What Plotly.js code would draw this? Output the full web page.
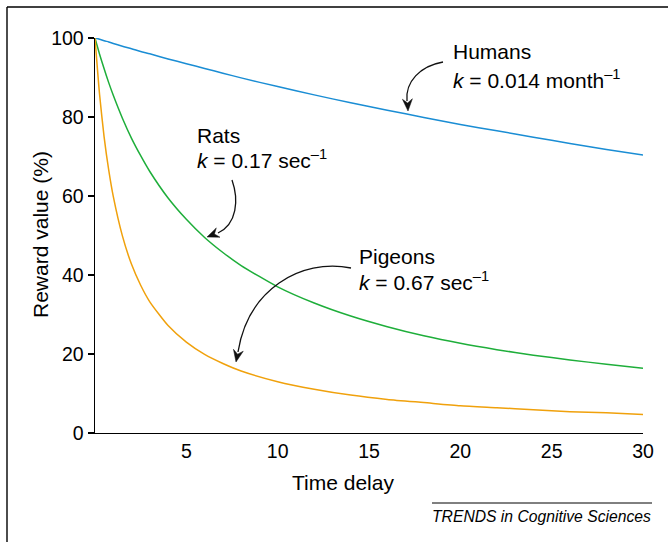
<!DOCTYPE html>
<html>
<head>
<meta charset="utf-8">
<script src="https://cdn.plot.ly/plotly-3.0.1.min.js"></script>
<style>html,body{margin:0;padding:0;background:#fff;}#chart{width:668px;height:542px;}</style>
</head>
<body>
<div id="chart"></div>
<script>
// Data
var delay = [0, 0.25, 0.5, 0.75, 1, 1.5, 2, 2.5, 3, 4, 5, 6, 7, 8, 10, 12, 14, 16, 18, 20, 22, 24, 26, 28, 30];
var humans = [100, 99.7, 99.3, 99.0, 98.6, 97.9, 97.3, 96.6, 96.0, 94.7, 93.5, 92.3, 91.1, 89.9, 87.7, 85.6, 83.6, 81.7, 79.9, 78.1, 76.5, 74.9, 73.3, 71.8, 70.4];
var rats = [100, 95.9, 92.2, 88.7, 85.5, 79.7, 74.6, 70.2, 66.2, 59.5, 54.1, 49.5, 45.7, 42.4, 37.0, 32.9, 29.6, 26.9, 24.6, 22.7, 21.1, 19.7, 18.5, 17.4, 16.4];
var pigeons = [100, 85.7, 74.9, 66.6, 59.9, 49.9, 42.7, 37.4, 33.2, 27.2, 23.0, 19.9, 17.6, 15.7, 13.0, 11.1, 9.6, 8.5, 7.7, 6.9, 6.4, 5.9, 5.4, 5.1, 4.7];
var xTicks = [5, 10, 15, 20, 25, 30];
var yTicks = [0, 20, 40, 60, 80, 100];
var seriesNames = ['Humans', 'Rats', 'Pigeons'];
var kLabels = ['<i>k</i> = 0.014 month<sup>\u20131</sup>', '<i>k</i> = 0.17 sec<sup>\u20131</sup>', '<i>k</i> = 0.67 sec<sup>\u20131</sup>'];

var W = 668, H = 542;
var M = {l: 95, r: 25, t: 38, b: 109};
var PW = W - M.l - M.r, PH = H - M.t - M.b;
function px(x) { return (x - M.l) / PW; }
function py(y) { return (H - M.b - y) / PH; }
function P(x, y) { return px(x) + ',' + py(y); }

var FONT = 'Arial, "Liberation Sans", sans-serif';

function trace(y, color, name) {
  return {x: delay, y: y, type: 'scatter', mode: 'lines', name: name,
    line: {color: color, width: 1.5, shape: 'spline', smoothing: 0.6}, hoverinfo: 'skip'};
}

var data = [
  trace(humans, '#1a8dd4', seriesNames[0]),
  trace(rats, '#1eae3a', seriesNames[1]),
  trace(pigeons, '#f0a10c', seriesNames[2])
];

function curve(s, c1, c2, e) {
  return {type: 'path', xref: 'paper', yref: 'paper',
    path: 'M' + P(s[0], s[1]) + ' C' + P(c1[0], c1[1]) + ' ' + P(c2[0], c2[1]) + ' ' + P(e[0], e[1]),
    line: {color: '#111', width: 1.3}};
}
function head(tip, dir) {
  var L = Math.sqrt(dir[0] * dir[0] + dir[1] * dir[1]);
  var ux = dir[0] / L, uy = dir[1] / L;
  var nx = -uy, ny = ux;
  var len = 12, hw = 5, notch = 8;
  var bx = tip[0] - ux * len, by = tip[1] - uy * len;
  var mx = tip[0] - ux * notch, my = tip[1] - uy * notch;
  return {type: 'path', xref: 'paper', yref: 'paper',
    path: 'M' + P(tip[0], tip[1]) + ' L' + P(bx + nx * hw, by + ny * hw) + ' L' + P(mx, my) + ' L' + P(bx - nx * hw, by - ny * hw) + ' Z',
    fillcolor: '#111', line: {color: '#111', width: 0.5}};
}

var shapes = [
  // frame
  {type: 'line', xref: 'paper', yref: 'paper', x0: px(7), x1: px(668), y0: py(7), y1: py(7), line: {color: '#000', width: 1.4}},
  {type: 'line', xref: 'paper', yref: 'paper', x0: px(7), x1: px(7), y0: py(7), y1: py(542), line: {color: '#000', width: 1.4}},
  // footer rule
  {type: 'line', xref: 'paper', yref: 'paper', x0: px(432), x1: px(652), y0: py(503), y1: py(503), line: {color: '#000', width: 1}},
  // arrows
  curve([443, 62], [420, 66], [405, 82], [407, 101]),
  head([408, 111], [0.05, 1]),
  curve([232, 180], [239, 200], [237, 224], [218, 233]),
  head([207, 237], [-1, 0.4]),
  curve([351, 268], [300, 258], [248, 290], [238, 352]),
  head([236, 362], [-0.2, 1])
];

function txt(x, y, t, size, extra) {
  var a = {xref: 'paper', yref: 'paper', x: px(x), y: py(y), text: t, showarrow: false,
    xanchor: 'left', yanchor: 'middle', font: {family: FONT, size: size, color: '#000'}};
  for (var k in extra) a[k] = extra[k];
  return a;
}

var annotations = [
  txt(451, 52, seriesNames[0], 21),
  txt(451, 79, kLabels[0], 21),
  txt(195, 135, seriesNames[1], 21),
  txt(195, 159, kLabels[1], 21),
  txt(357, 256, seriesNames[2], 21),
  txt(357, 281, kLabels[2], 21),
  txt(343, 482, 'Time delay', 21, {xanchor: 'center'}),
  txt(40, 235, 'Reward value (%)', 21, {xanchor: 'center', textangle: -90}),
  txt(430, 516, '<i>TRENDS in Cognitive Sciences</i>', 15.7)
];

var layout = {
  width: W, height: H,
  margin: M,
  paper_bgcolor: '#fff', plot_bgcolor: '#fff',
  showlegend: false,
  font: {family: FONT, size: 19.5, color: '#000'},
  xaxis: {range: [0, 30], showgrid: false, zeroline: false, showline: true, linecolor: '#000', linewidth: 1.4,
    tickmode: 'array', tickvals: xTicks, ticktext: xTicks.map(String), ticks: '', tickfont: {size: 19.5}, fixedrange: true},
  yaxis: {range: [0, 100], showgrid: false, zeroline: false, showline: true, linecolor: '#000', linewidth: 1.4,
    tickmode: 'array', tickvals: yTicks, ticktext: yTicks.map(String), ticks: 'outside', ticklen: 6, tickwidth: 1.4, tickcolor: '#000',
    tickfont: {size: 19.5}, fixedrange: true},
  shapes: shapes,
  annotations: annotations
};

Plotly.newPlot('chart', data, layout, {displayModeBar: false, staticPlot: true});
</script>
</body>
</html>
